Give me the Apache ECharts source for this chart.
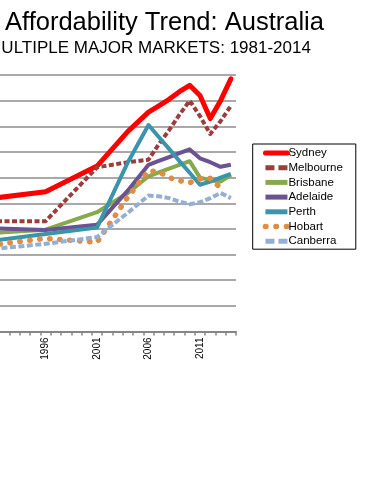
<!DOCTYPE html>
<html>
<head>
<meta charset="utf-8">
<script src="https://cdn.jsdelivr.net/npm/echarts@6/dist/echarts.min.js"></script>
<style>
html,body{margin:0;padding:0;background:#fff;}
#chart{width:370px;height:496px;}
</style>
</head>
<body>
<div id="chart"></div>
<script>
// Category axis: every year 1981-2014
const years = [];
for (let y = 1981; y <= 2014; y++) years.push(String(y));

// Survey years that carry data (other years are gaps, connected)
const dataYears = [1981, 1986, 1991, 1996, 2001, 2004, 2006, 2007, 2008, 2009, 2010, 2011, 2012, 2013, 2014];

// Median multiple values (1981/1986 lie outside the visible crop: rough estimates)
const sydney    = [4.0, 4.1, 5.2, 5.45, 6.45, 7.8, 8.55, 8.8, 9.05, 9.35, 9.6, 9.2, 8.3, 9.0, 9.85];
const melbourne = [3.0, 3.3, 4.3, 4.3, 6.4, 6.6, 6.7, 7.3, 7.85, 8.45, 9.0, 8.4, 7.7, 8.2, 8.8];
const brisbane  = [3.0, 3.2, 3.85, 3.97, 4.65, 5.4, 6.05, 6.2, 6.35, 6.5, 6.64, 6.0, 5.9, 5.85, 6.1];
const adelaide  = [3.3, 3.4, 4.02, 3.96, 4.16, 5.5, 6.5, 6.65, 6.8, 6.95, 7.1, 6.75, 6.6, 6.42, 6.5];
const perth     = [2.8, 3.0, 3.55, 3.8, 4.05, 6.6, 8.05, 7.58, 7.12, 6.65, 6.19, 5.72, 5.84, 6.0, 6.15];
const hobart    = [2.8, 3.0, 3.38, 3.63, 3.48, 5.25, 6.26, 6.23, 6.0, 5.88, 5.8, 5.95, 5.97, 5.6, null];
const canberra  = [3.0, 3.1, 3.22, 3.42, 3.68, 4.63, 5.3, 5.27, 5.2, 5.06, 4.96, 5.04, 5.2, 5.4, 5.2];

const yTicks = { min: 0, max: 10, interval: 1 };
const xLabelEvery = 5;

function toSeriesData(vals) {
  const out = years.map(() => null);
  dataYears.forEach((y, i) => { out[years.indexOf(String(y))] = vals[i]; });
  return out;
}

function mk(name, vals, color, width, type, cap) {
  return {
    name: name,
    type: 'line',
    data: toSeriesData(vals),
    connectNulls: true,
    symbol: 'none',
    showSymbol: false,
    animation: false,
    lineStyle: { color: color, width: width, type: type, cap: cap || 'butt', join: 'round' },
    itemStyle: { color: color }
  };
}

const chart = echarts.init(document.getElementById('chart'), null, { renderer: 'canvas' });
chart.setOption({
  animation: false,
  backgroundColor: '#ffffff',
  graphic: [
    { type: 'text', x: 5, y: 22.5,
      style: { text: 'Affordability Trend: Australia', font: '25.5px "Liberation Sans", Arial, sans-serif', fill: '#000', verticalAlign: 'middle', align: 'left' } },
    { type: 'text', x: -12.8, y: 48,
      style: { text: 'MULTIPLE MAJOR MARKETS: 1981-2014', font: '17px "Liberation Sans", Arial, sans-serif', fill: '#000', verticalAlign: 'middle', align: 'left' } }
  ],
  grid: { left: -114, right: 134, top: 75, bottom: 164.5, containLabel: false, outerBoundsMode: 'none' },
  legend: {
    orient: 'vertical',
    left: 252.7, top: 144,
    padding: [3, 13, 2, 10],
    borderColor: '#000', borderWidth: 1,
    itemWidth: 22, itemHeight: 8, itemGap: 2.7,
    itemStyle: { opacity: 0 },
    lineStyle: { width: 5 },
    textStyle: { fontFamily: '"Liberation Sans", Arial, sans-serif', fontSize: 11.5, color: '#000', lineHeight: 12, padding: [0, 0, 0, -4] },
    data: [
      { name: 'Sydney' },
      { name: 'Melbourne', lineStyle: { type: [9, 4] } },
      { name: 'Brisbane' },
      { name: 'Adelaide' },
      { name: 'Perth' },
      { name: 'Hobart', lineStyle: { type: [0.5, 10], cap: 'round', width: 5.5 } },
      { name: 'Canberra', lineStyle: { type: [9, 4] } }
    ]
  },
  xAxis: {
    type: 'category',
    data: years,
    boundaryGap: true,
    axisLine: { lineStyle: { color: '#868686', width: 2 } },
    axisTick: { show: true, interval: 0, length: 4, lineStyle: { color: '#868686', width: 1.5 } },
    axisLabel: { interval: xLabelEvery - 1, rotate: 90, fontSize: 10, color: '#000', margin: 6, fontFamily: '"Liberation Sans", Arial, sans-serif' },
    splitLine: { show: false }
  },
  yAxis: {
    type: 'value',
    min: yTicks.min, max: yTicks.max, interval: yTicks.interval,
    axisLine: { show: false },
    axisTick: { show: false },
    axisLabel: { show: true, color: '#000' },
    splitLine: { show: true, lineStyle: { color: '#8c8c8c', width: 1.5 } }
  },
  series: [
    mk('Sydney', sydney, '#ff0000', 5, 'solid', 'round'),
    mk('Melbourne', melbourne, '#9b3d3b', 4, [5, 2.5]),
    mk('Brisbane', brisbane, '#86aa4a', 4, 'solid'),
    mk('Adelaide', adelaide, '#6b5292', 4, 'solid'),
    mk('Perth', perth, '#3a95ab', 4, 'solid'),
    mk('Hobart', hobart, '#df8c45', 5.5, [0.5, 9.5], 'round'),
    mk('Canberra', canberra, '#94aed6', 4, [6, 2.5])
  ]
});
</script>
</body>
</html>
